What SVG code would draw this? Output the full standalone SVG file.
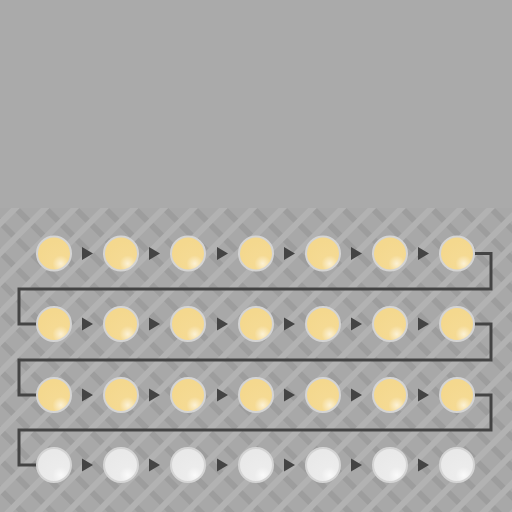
<svg xmlns="http://www.w3.org/2000/svg" width="512" height="512" viewBox="0 0 512 512">
<defs>
<pattern id="hatch" width="21" height="21" patternUnits="userSpaceOnUse" patternTransform="translate(0 208) rotate(45)">
<rect width="21" height="21" fill="#a8a8a8"/>
<rect x="0" y="7" width="21" height="6" fill="#9d9d9d"/>
<rect x="8" y="0" width="6" height="21" fill="#b2b2b2"/>
</pattern>
<radialGradient id="gy" cx="0.7" cy="0.8" r="0.7">
<stop offset="0" stop-color="#fcf1d4"/>
<stop offset="0.35" stop-color="#f5da93"/>
<stop offset="1" stop-color="#f4d88e"/>
</radialGradient>
<radialGradient id="gw" cx="0.7" cy="0.8" r="0.7">
<stop offset="0" stop-color="#fafafa"/>
<stop offset="0.35" stop-color="#ececec"/>
<stop offset="1" stop-color="#e9e9e9"/>
</radialGradient>
<polygon id="arr" points="0,-6.5 11,0 0,6.5" fill="#444444"/>
</defs>
<style>
.y{fill:url(#gy);stroke:#d4d4d4;stroke-width:2}
.w{fill:url(#gw);stroke:#d4d4d4;stroke-width:2}
.c{fill:none;stroke:#444444;stroke-width:3}
</style>
<rect width="512" height="208" fill="#aaaaaa"/>
<rect y="208" width="512" height="304" fill="url(#hatch)"/>
<g id="connectors">
<path class="c" d="M474 253.5 H491 V289 H19 V324 H37"/>
<path class="c" d="M474 324 H491 V360 H19 V395 H37"/>
<path class="c" d="M474 395 H491 V430 H19 V465 H37"/>
<g id="arrows">
<use href="#arr" x="82" y="253.5"/><use href="#arr" x="149" y="253.5"/><use href="#arr" x="217" y="253.5"/><use href="#arr" x="284" y="253.5"/><use href="#arr" x="351" y="253.5"/><use href="#arr" x="418" y="253.5"/>
<use href="#arr" x="82" y="324"/><use href="#arr" x="149" y="324"/><use href="#arr" x="217" y="324"/><use href="#arr" x="284" y="324"/><use href="#arr" x="351" y="324"/><use href="#arr" x="418" y="324"/>
<use href="#arr" x="82" y="395"/><use href="#arr" x="149" y="395"/><use href="#arr" x="217" y="395"/><use href="#arr" x="284" y="395"/><use href="#arr" x="351" y="395"/><use href="#arr" x="418" y="395"/>
<use href="#arr" x="82" y="465"/><use href="#arr" x="149" y="465"/><use href="#arr" x="217" y="465"/><use href="#arr" x="284" y="465"/><use href="#arr" x="351" y="465"/><use href="#arr" x="418" y="465"/>
</g>
</g>
<g id="row1">
<circle id="n1" class="y" cx="54" cy="253.5" r="17"/><circle id="n2" class="y" cx="121" cy="253.5" r="17"/><circle id="n3" class="y" cx="188" cy="253.5" r="17"/><circle id="n4" class="y" cx="256" cy="253.5" r="17"/><circle id="n5" class="y" cx="323" cy="253.5" r="17"/><circle id="n6" class="y" cx="390" cy="253.5" r="17"/><circle id="n7" class="y" cx="457" cy="253.5" r="17"/>
</g>
<g id="row2">
<circle id="n8" class="y" cx="54" cy="324" r="17"/><circle id="n9" class="y" cx="121" cy="324" r="17"/><circle id="n10" class="y" cx="188" cy="324" r="17"/><circle id="n11" class="y" cx="256" cy="324" r="17"/><circle id="n12" class="y" cx="323" cy="324" r="17"/><circle id="n13" class="y" cx="390" cy="324" r="17"/><circle id="n14" class="y" cx="457" cy="324" r="17"/>
</g>
<g id="row3">
<circle id="n15" class="y" cx="54" cy="395" r="17"/><circle id="n16" class="y" cx="121" cy="395" r="17"/><circle id="n17" class="y" cx="188" cy="395" r="17"/><circle id="n18" class="y" cx="256" cy="395" r="17"/><circle id="n19" class="y" cx="323" cy="395" r="17"/><circle id="n20" class="y" cx="390" cy="395" r="17"/><circle id="n21" class="y" cx="457" cy="395" r="17"/>
</g>
<g id="row4">
<circle id="n22" class="w" cx="54" cy="465" r="17"/><circle id="n23" class="w" cx="121" cy="465" r="17"/><circle id="n24" class="w" cx="188" cy="465" r="17"/><circle id="n25" class="w" cx="256" cy="465" r="17"/><circle id="n26" class="w" cx="323" cy="465" r="17"/><circle id="n27" class="w" cx="390" cy="465" r="17"/><circle id="n28" class="w" cx="457" cy="465" r="17"/>
</g>
</svg>
